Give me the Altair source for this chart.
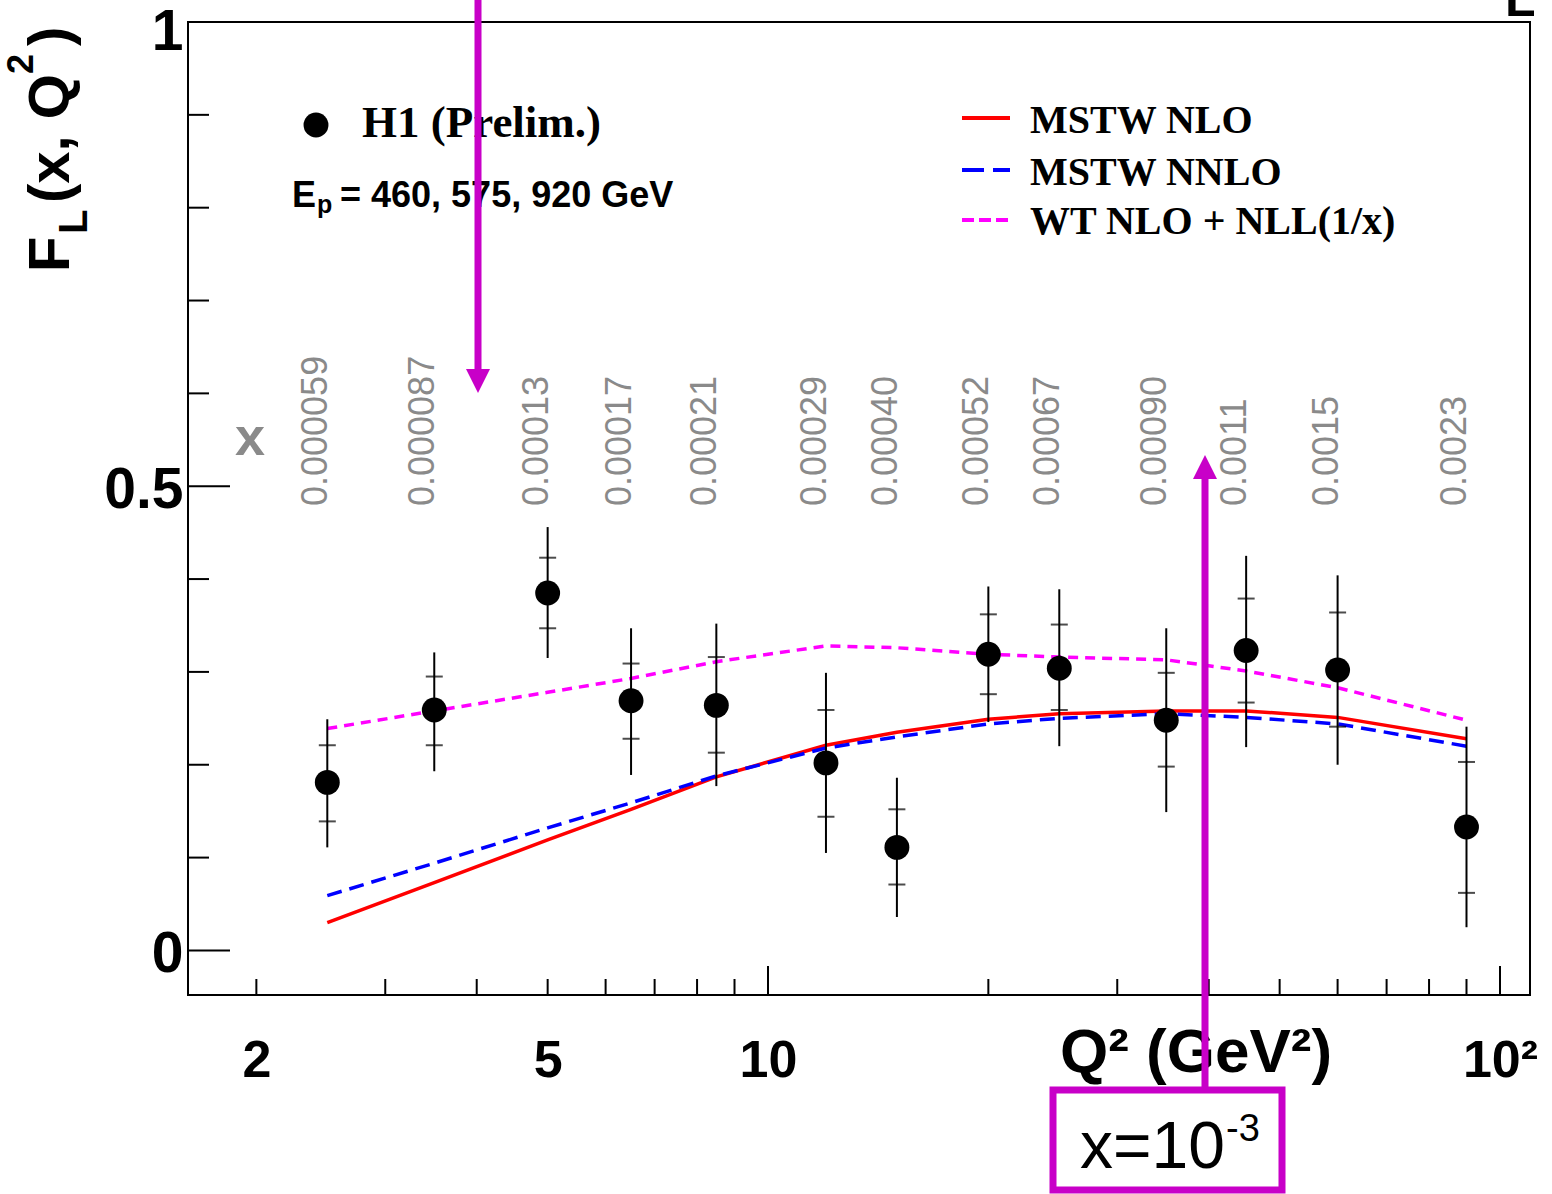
import altair as alt
import pandas as pd

# ---------------- data ----------------
q2 = [2.5, 3.5, 5, 6.5, 8.5, 12, 15, 20, 25, 35, 45, 60, 90]
fl = [0.181, 0.259, 0.385, 0.269, 0.264, 0.202, 0.111, 0.319, 0.304, 0.248, 0.323, 0.302, 0.133]
tot_hi = [0.249, 0.321, 0.456, 0.347, 0.352, 0.299, 0.186, 0.392, 0.389, 0.347, 0.425, 0.404, 0.241]
tot_lo = [0.111, 0.193, 0.315, 0.189, 0.177, 0.105, 0.036, 0.246, 0.220, 0.149, 0.219, 0.200, 0.025]
stat_hi = [0.221, 0.295, 0.423, 0.309, 0.316, 0.259, 0.152, 0.362, 0.351, 0.299, 0.379, 0.364, 0.203]
stat_lo = [0.139, 0.221, 0.347, 0.228, 0.213, 0.144, 0.071, 0.276, 0.259, 0.198, 0.267, 0.241, 0.062]
x_bj = ["0.000059", "0.000087", "0.00013", "0.00017", "0.00021", "0.00029", "0.00040",
        "0.00052", "0.00067", "0.00090", "0.0011", "0.0015", "0.0023"]
mstw_nlo = [0.030, 0.073, 0.119, 0.152, 0.187, 0.221, 0.235, 0.249, 0.255, 0.258, 0.258, 0.251, 0.228]
mstw_nnlo = [0.059, 0.094, 0.132, 0.159, 0.188, 0.218, 0.230, 0.244, 0.250, 0.255, 0.251, 0.244, 0.220]
wt_nll = [0.239, 0.258, 0.278, 0.293, 0.311, 0.328, 0.326, 0.319, 0.316, 0.313, 0.301, 0.283, 0.248]

x_tick_labels = [2, 5, 10, 100]
x_major_ticks = [10, 100]
x_minor_ticks = [2, 3, 4, 5, 6, 7, 8, 9, 20, 30, 40, 50, 60, 70, 80, 90]
y_tick_labels = [0, 0.5, 1]
y_major_ticks = [0, 0.5, 1]
y_minor_ticks = [0.1, 0.2, 0.3, 0.4, 0.6, 0.7, 0.8, 0.9]

# ---------------- layout / style ----------------
W, H = 1342, 973
SANS = "Liberation Sans"
SERIF = "Liberation Serif"
MAG = "#c800c8"
GRAY = "#8a8a8a"

df = pd.DataFrame({
    "q2": q2, "fl": fl, "tot_hi": tot_hi, "tot_lo": tot_lo,
    "stat_hi": stat_hi, "stat_lo": stat_lo, "xbj": x_bj,
    "nlo": mstw_nlo, "nnlo": mstw_nnlo, "wt": wt_nll,
})

x_scale = alt.Scale(type="log", domain=[1.613, 109.9], nice=False)
y_scale = alt.Scale(domain=[-0.048, 1.0], nice=False, zero=False)

x_axis = alt.Axis(values=x_tick_labels,
                  labelExpr="datum.value >= 100 ? '10\u00b2' : format(datum.value, 'd')",
                  ticks=False, domain=False, grid=False, title=None,
                  labelFont=SANS, labelFontWeight="bold", labelFontSize=52,
                  labelColor="black", labelPadding=40, labelFlush=False,
                  labelOverlap=False, labelBound=False)
y_axis = alt.Axis(values=y_tick_labels,
                  labelExpr="datum.value == 0.5 ? '0.5' : format(datum.value, 'd')",
                  ticks=False, domain=False, grid=False, title=None,
                  labelFont=SANS, labelFontWeight="bold", labelFontSize=57,
                  labelColor="black", labelPadding=5,
                  labelOffset={"condition": {"test": "datum.value == 1", "value": 10}, "value": 4},
                  labelFlush=False, labelOverlap=False, labelBound=False)


def X(field):
    return alt.X(field, type="quantitative", scale=x_scale, axis=x_axis)


def Y(field):
    return alt.Y(field, type="quantitative", scale=y_scale, axis=y_axis)


base = alt.Chart(df)

line_nlo = base.mark_line(color="#ff0000", strokeWidth=3.5).encode(x=X("q2"), y=Y("nlo"))
line_nnlo = base.mark_line(color="#0000ff", strokeWidth=3.5, strokeDash=[15, 8]).encode(x=X("q2"), y=Y("nnlo"))
line_wt = base.mark_line(color="#ff00ff", strokeWidth=3.5, strokeDash=[10, 7]).encode(x=X("q2"), y=Y("wt"))

err = base.mark_rule(color="black", strokeWidth=2).encode(x=X("q2"), y=Y("tot_lo"), y2="tot_hi")
tick_hi = base.mark_tick(orient="horizontal", size=17, thickness=2, color="black").encode(x=X("q2"), y=Y("stat_hi"))
tick_lo = base.mark_tick(orient="horizontal", size=17, thickness=2, color="black").encode(x=X("q2"), y=Y("stat_lo"))
pts = base.mark_circle(size=620, color="black", opacity=1).encode(x=X("q2"), y=Y("fl"))

xlabels = base.mark_text(angle=270, align="left", baseline="alphabetic", font=SANS,
                         fontSize=36, color=GRAY).encode(x=X("q2"), y=alt.value(484), text="xbj:N")

# inward axis ticks
xt_major = alt.Chart(pd.DataFrame({"v": x_major_ticks})).mark_rule(color="black", strokeWidth=2).encode(
    x=X("v"), y=alt.value(H), y2=alt.value(H - 29))
xt_minor = alt.Chart(pd.DataFrame({"v": x_minor_ticks})).mark_rule(color="black", strokeWidth=2).encode(
    x=X("v"), y=alt.value(H), y2=alt.value(H - 16))
yt_major = alt.Chart(pd.DataFrame({"v": y_major_ticks})).mark_rule(color="black", strokeWidth=2).encode(
    y=Y("v"), x=alt.value(0), x2=alt.value(42))
yt_minor = alt.Chart(pd.DataFrame({"v": y_minor_ticks})).mark_rule(color="black", strokeWidth=2).encode(
    y=Y("v"), x=alt.value(0), x2=alt.value(21))


def txt(s, x, y, size, weight="normal", font=SANS, color="black", align="left",
        baseline="alphabetic", angle=0):
    return alt.Chart(pd.DataFrame({"t": [s]})).mark_text(
        align=align, baseline=baseline, font=font, fontSize=size, fontWeight=weight,
        color=color, angle=angle).encode(x=alt.value(x), y=alt.value(y), text="t:N")


def hline(x1, x2, y, color, width, dash=None):
    kw = dict(color=color, strokeWidth=width)
    if dash:
        kw["strokeDash"] = dash
    return alt.Chart(pd.DataFrame({"a": [0]})).mark_rule(**kw).encode(
        x=alt.value(x1), x2=alt.value(x2), y=alt.value(y))


dummy = pd.DataFrame({"a": [0]})

layers = [
    line_nlo, line_nnlo, line_wt, err, tick_hi, tick_lo, pts, xlabels,
    xt_major, xt_minor, yt_major, yt_minor,
    # y-axis title  F_L (x, Q^2)   (positions relative to the plot area)
    txt("F", -119, 250, 58, "bold", angle=270),
    txt("L", -101, 212, 40, "bold", angle=270),
    txt("(x, Q", -119, 181, 58, "bold", angle=270),
    txt("2", -155, 52, 36, "bold", angle=270),
    txt(")", -119, 24, 58, "bold", angle=270),
    # x-axis title
    txt("Q\u00b2 (GeV\u00b2)", 1008, 1050, 62, "bold", align="center"),
    # cut label in the top-right corner
    txt("L", 1317, -6, 50, "bold"),
    # gray "x"
    txt("x", 62, 433, 54, "bold", color=GRAY, align="center"),
    # H1 legend
    alt.Chart(dummy).mark_circle(size=620, color="black", opacity=1).encode(x=alt.value(128), y=alt.value(103)),
    txt("H1 (Prelim.)", 174, 115, 45, "bold", font=SERIF),
    txt("E", 104, 185, 36, "bold"),
    txt("p", 129, 191, 25, "bold"),
    txt("= 460, 575, 920 GeV", 152, 185, 36, "bold"),
    # theory legend
    hline(774, 822, 96, "#ff0000", 4),
    hline(774, 822, 148, "#0000ff", 4, [22, 9]),
    hline(774, 822, 198, "#ff00ff", 4, [12, 5]),
    txt("MSTW NLO", 842, 111, 40, "bold", font=SERIF),
    txt("MSTW NNLO", 842, 163, 40, "bold", font=SERIF),
    txt("WT NLO + NLL(1/x)", 842, 212, 40, "bold", font=SERIF),
    # annotation arrows and box
    alt.Chart(dummy).mark_rule(color=MAG, strokeWidth=7).encode(
        x=alt.value(290), y=alt.value(-22), y2=alt.value(352)),
    alt.Chart(dummy).mark_point(shape="M-1,-1L1,-1L0,1Z", size=576, filled=True, color=MAG, opacity=1).encode(
        x=alt.value(290), y=alt.value(359)),
    alt.Chart(dummy).mark_rule(color=MAG, strokeWidth=7).encode(
        x=alt.value(1017), y=alt.value(1068), y2=alt.value(456)),
    alt.Chart(dummy).mark_point(shape="M-1,1L1,1L0,-1Z", size=576, filled=True, color=MAG, opacity=1).encode(
        x=alt.value(1017), y=alt.value(445)),
    alt.Chart(dummy).mark_rect(fill="white", stroke=MAG, strokeWidth=7).encode(
        x=alt.value(865), x2=alt.value(1094), y=alt.value(1068), y2=alt.value(1168)),
    txt("x=10", 892, 1146, 66),
    txt("-3", 1038, 1119, 38),
]

chart = alt.layer(*layers).properties(
    width=W, height=H,
    padding={"left": 188, "top": 22, "right": 22, "bottom": 199},
    autosize=alt.AutoSizeParams(type="none"),
    background="white",
).configure_view(stroke="black", strokeWidth=2)

chart.save("out.html", embed_options={"renderer": "svg", "actions": False})
